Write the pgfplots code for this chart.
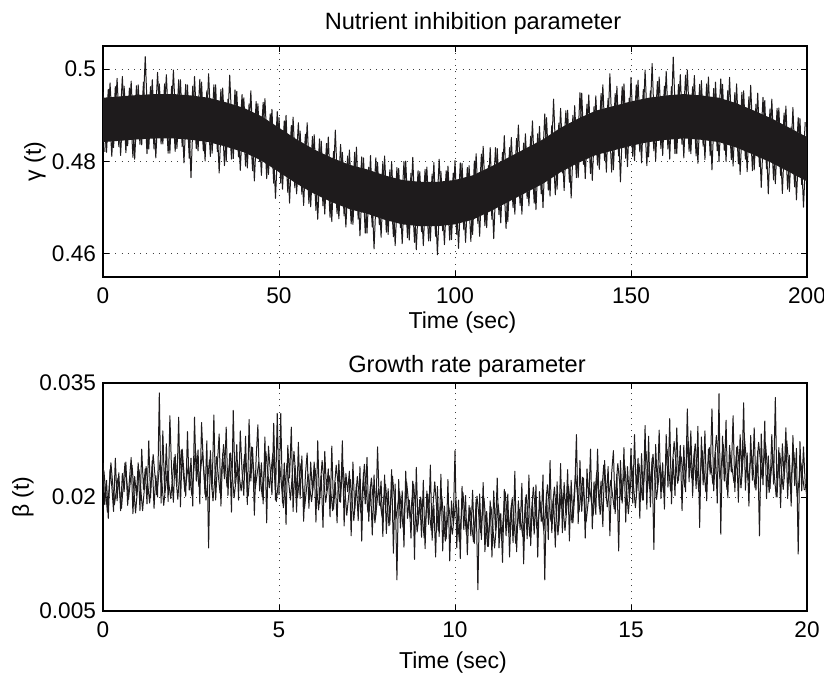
\documentclass[border=0pt]{standalone}
\usepackage{fontspec}
\setmainfont{Liberation Sans}
\usepackage{pgfplots}
\pgfplotsset{compat=1.18}
\definecolor{ink}{RGB}{30,27,28}

\pgfplotsset{
  matlab/.style={
    scale only axis, width=352pt,
    xmin=0,
    axis line style={line width=0.6pt, black},
    major tick length=3pt,
    tick style={line width=0.5pt, black},
    grid=major,
    major grid style={line width=0.5pt, black!75, dash pattern=on 0.5pt off 2.6pt},
    /pgf/number format/assume math mode=true,
    tick label style={font=\fontsize{11.3}{13}\selectfont},
    label style={font=\fontsize{11.5}{13}\selectfont},
    every axis title/.style={at={(0.5,1)}, anchor=base, font=\fontsize{11.8}{13}\selectfont},
    xticklabel style={anchor=base, yshift=-13pt},
    scaled ticks=false,
  },
}

\begin{document}
\begin{tikzpicture}
\path[use as bounding box] (0,0) rectangle (412pt,337.5pt);

% top: nutrient inhibition
\begin{axis}[matlab,
  at={(51.5pt,199pt)}, anchor=south west, height=115.5pt,
  xmax=200, ymin=0.455, ymax=0.505,
  xtick={0,50,100,150,200}, xticklabels={0,50,100,150,200},
  ytick={0.46,0.48,0.5}, yticklabels={0.46,0.48,0.5},
  title={Nutrient inhibition parameter},
  title style={yshift=8.5pt, xshift=9pt},
  xlabel={Time (sec)},
  xlabel style={at={(axis description cs:0.5,0)}, anchor=base, yshift=-25.5pt, xshift=3.75pt},
  ylabel={γ (t)},
  ylabel style={at={(axis description cs:-0.0966,0.5)}, anchor=center},
]
% dense core of the band
\addplot[draw=none, fill=ink] coordinates {
(0,.4938)(5,.4941)(10,.4944)(15,.4946)(20,.4946)(25,.4943)(30,.4938)(35,.4928)(40,.4916)
(45,.4898)(50,.4873)(55,.4848)(60,.4826)(65,.4808)(70,.4793)(75,.4783)(80,.4770)(85,.4760)
(90,.4756)(95,.4756)(100,.4760)(105,.4770)(110,.4788)(115,.4808)(120,.4828)(125,.4848)
(130,.4873)(135,.4893)(140,.4910)(145,.4920)(150,.4930)(155,.4938)(160,.4943)(165,.4946)
(170,.4943)(175,.4938)(180,.4926)(185,.4910)(190,.4893)(195,.4873)(200,.4853)
(200,.4757)(195,.4777)(190,.4797)(185,.4814)(180,.4830)(175,.4842)(170,.4847)(165,.4850)
(160,.4847)(155,.4842)(150,.4834)(145,.4824)(140,.4814)(135,.4797)(130,.4777)(125,.4752)
(120,.4732)(115,.4712)(110,.4692)(105,.4674)(100,.4664)(95,.4660)(90,.4660)(85,.4664)
(80,.4674)(75,.4687)(70,.4697)(65,.4712)(60,.4730)(55,.4752)(50,.4777)(45,.4802)(40,.4820)
(35,.4832)(30,.4842)(25,.4847)(20,.4850)(15,.4850)(10,.4848)(5,.4845)(0,.4842)
} -- cycle;
% spikes at whole seconds
\addplot[ink, line width=0.5pt, line join=round, no markers] coordinates {
(0,.4950)(1,.4820)(2,.4970)(3,.4830)(4,.4980)
(5,.4813)(6,.4963)(7,.4834)(8,.4974)(9,.4805)
(10,.4966)(11,.4836)(12,.5027)(13,.4827)(14,.4977)
(15,.4808)(16,.4968)(17,.4838)(18,.4988)(19,.4818)
(20,.4998)(21,.4828)(22,.4977)(23,.4797)(24,.4966)
(25,.4765)(26,.4984)(27,.4823)(28,.4972)(29,.4801)
(30,.4990)(31,.4818)(32,.4966)(33,.4775)(34,.4959)
(35,.4800)(36,.4987)(37,.4806)(38,.4952)(39,.4781)
(40,.4938)(41,.4786)(42,.4953)(43,.4758)(44,.4925)
(45,.4770)(46,.4936)(47,.4772)(48,.4913)(49,.4720)
(50,.4895)(51,.4740)(52,.4900)(53,.4710)(54,.4896)
(55,.4730)(56,.4866)(57,.4705)(58,.4884)(59,.4702)
(60,.4858)(61,.4675)(62,.4844)(63,.4686)(64,.4853)
(65,.4670)(66,.4868)(67,.4676)(68,.4820)(69,.4658)
(70,.4825)(71,.4664)(72,.4831)(73,.4639)(74,.4808)
(75,.4645)(76,.4813)(77,.4611)(78,.4798)(79,.4636)
(80,.4812)(81,.4642)(82,.4800)(83,.4618)(84,.4785)
(85,.4622)(86,.4801)(87,.4630)(88,.4809)(89,.4609)
(90,.4778)(91,.4618)(92,.4788)(93,.4628)(94,.4798)
(95,.4598)(96,.4779)(97,.4620)(98,.4790)(99,.4631)
(100,.4802)(101,.4612)(102,.4796)(103,.4625)(104,.4791)
(105,.4642)(106,.4817)(107,.4638)(108,.4833)(109,.4657)
(110,.4830)(111,.4633)(112,.4828)(113,.4667)(114,.4856)
(115,.4670)(116,.4852)(117,.4686)(118,.4879)(119,.4686)
(120,.4860)(121,.4704)(122,.4888)(123,.4696)(124,.4876)
(125,.4700)(126,.4895)(127,.4725)(128,.4935)(129,.4740)
(130,.4915)(131,.4737)(132,.4911)(133,.4721)(134,.4921)
(135,.4765)(136,.4948)(137,.4763)(138,.4944)(139,.4759)
(140,.4942)(141,.4783)(142,.4966)(143,.4777)(144,.4990)
(145,.4782)(146,.4963)(147,.4756)(148,.4968)(149,.4789)
(150,.4982)(151,.4802)(152,.4976)(153,.4797)(154,.4998)
(155,.4810)(156,.5012)(157,.4801)(158,.4983)(159,.4813)
(160,.4995)(161,.4805)(162,.5026)(163,.4817)(164,.4988)
(165,.4808)(166,.4998)(167,.4817)(168,.4986)(169,.4796)
(170,.4975)(171,.4804)(172,.4983)(173,.4782)(174,.4972)
(175,.4800)(176,.4967)(177,.4800)(178,.4982)(179,.4790)
(180,.4968)(181,.4772)(182,.4953)(183,.4778)(184,.4965)
(185,.4782)(186,.4948)(187,.4744)(188,.4932)(189,.4730)
(190,.4935)(191,.4752)(192,.4916)(193,.4731)(194,.4920)
(195,.4735)(196,.4917)(197,.4717)(198,.4893)(199,.4701)
(200,.4875)
};
% spikes at half seconds
\addplot[ink, line width=0.5pt, line join=round, no markers] coordinates {
(0.5,.4821)(1.5,.4956)(2.5,.4811)(3.5,.4962)(4.5,.4832)
(5.5,.4984)(6.5,.4819)(7.5,.4959)(8.5,.4809)(9.5,.4964)
(10.5,.4837)(11.5,.4972)(12.5,.4817)(13.5,.4962)(14.5,.4827)
(15.5,.4993)(16.5,.4838)(17.5,.4968)(18.5,.4818)(19.5,.4963)
(20.5,.4822)(21.5,.4977)(22.5,.4832)(23.5,.4967)(24.5,.4807)
(25.5,.4963)(26.5,.4828)(27.5,.4978)(28.5,.4823)(29.5,.4953)
(30.5,.4811)(31.5,.4966)(32.5,.4821)(33.5,.4956)(34.5,.4791)
(35.5,.4935)(36.5,.4805)(37.5,.4955)(38.5,.4810)(39.5,.4945)
(40.5,.4790)(41.5,.4925)(42.5,.4780)(43.5,.4930)(44.5,.4800)
(45.5,.4928)(46.5,.4763)(47.5,.4903)(48.5,.4753)(49.5,.4908)
(50.5,.4753)(51.5,.4888)(52.5,.4733)(53.5,.4878)(54.5,.4743)
(55.5,.4884)(56.5,.4729)(57.5,.4859)(58.5,.4709)(59.5,.4854)
(60.5,.4694)(61.5,.4849)(62.5,.4704)(63.5,.4839)(64.5,.4679)
(65.5,.4822)(66.5,.4687)(67.5,.4837)(68.5,.4682)(69.5,.4812)
(70.5,.4665)(71.5,.4820)(72.5,.4675)(73.5,.4810)(74.5,.4645)
(75.5,.4788)(76.5,.4658)(77.5,.4808)(78.5,.4663)(79.5,.4798)
(80.5,.4647)(81.5,.4782)(82.5,.4637)(83.5,.4787)(84.5,.4657)
(85.5,.4800)(86.5,.4635)(87.5,.4775)(88.5,.4625)(89.5,.4780)
(90.5,.4648)(91.5,.4783)(92.5,.4628)(93.5,.4773)(94.5,.4638)
(95.5,.4805)(96.5,.4650)(97.5,.4780)(98.5,.4630)(99.5,.4775)
(100.5,.4642)(101.5,.4797)(102.5,.4652)(103.5,.4787)(104.5,.4627)
(105.5,.4801)(106.5,.4666)(107.5,.4816)(108.5,.4661)(109.5,.4791)
(110.5,.4675)(111.5,.4830)(112.5,.4685)(113.5,.4820)(114.5,.4655)
(115.5,.4830)(116.5,.4700)(117.5,.4850)(118.5,.4705)(119.5,.4840)
(120.5,.4720)(121.5,.4855)(122.5,.4710)(123.5,.4860)(124.5,.4730)
(125.5,.4903)(126.5,.4738)(127.5,.4878)(128.5,.4728)(129.5,.4883)
(130.5,.4775)(131.5,.4910)(132.5,.4755)(133.5,.4900)(134.5,.4765)
(135.5,.4949)(136.5,.4794)(137.5,.4924)(138.5,.4774)(139.5,.4919)
(140.5,.4792)(141.5,.4947)(142.5,.4802)(143.5,.4937)(144.5,.4777)
(145.5,.4947)(146.5,.4812)(147.5,.4962)(148.5,.4807)(149.5,.4937)
(150.5,.4811)(151.5,.4966)(152.5,.4821)(153.5,.4956)(154.5,.4791)
(155.5,.4953)(156.5,.4823)(157.5,.4973)(158.5,.4828)(159.5,.4963)
(160.5,.4827)(161.5,.4962)(162.5,.4817)(163.5,.4967)(164.5,.4837)
(165.5,.4987)(166.5,.4822)(167.5,.4962)(168.5,.4812)(169.5,.4967)
(170.5,.4833)(171.5,.4968)(172.5,.4813)(173.5,.4958)(174.5,.4823)
(175.5,.4979)(176.5,.4824)(177.5,.4954)(178.5,.4804)(179.5,.4949)
(180.5,.4795)(181.5,.4950)(182.5,.4805)(183.5,.4940)(184.5,.4780)
(185.5,.4924)(186.5,.4789)(187.5,.4939)(188.5,.4784)(189.5,.4914)
(190.5,.4760)(191.5,.4915)(192.5,.4770)(193.5,.4905)(194.5,.4740)
(195.5,.4875)(196.5,.4745)(197.5,.4895)(198.5,.4750)(199.5,.4885)
};
\end{axis}

% bottom: growth rate
\begin{axis}[matlab,
  at={(51.5pt,32pt)}, anchor=south west, height=114pt,
  xmax=20, ymin=0.005, ymax=0.035,
  xtick={0,5,10,15,20}, xticklabels={0,5,10,15,20},
  ytick={0.005,0.02,0.035}, yticklabels={0.005,0.02,0.035},
  title={Growth rate parameter},
  title style={yshift=5.5pt, xshift=6pt},
  xlabel={Time (sec)},
  xlabel style={at={(axis description cs:0.5,0)}, anchor=base, yshift=-28.5pt, xshift=-1pt},
  ylabel={β (t)},
  ylabel style={at={(axis description cs:-0.1136,0.5)}, anchor=center},
]
% in-between samples (core of the noise)
\addplot[ink, line width=0.5pt, line join=round, no markers] table {
t y
0.025 .0235
0.125 .0180
0.225 .0245
0.325 .0190
0.425 .0225
0.525 .0185
0.625 .0245
0.725 .0197
0.825 .0242
0.925 .0179
1.025 .0236
1.125 .0182
1.225 .0240
1.325 .0192
1.425 .0256
1.525 .0203
1.625 .0248
1.725 .0189
1.825 .0234
1.925 .0198
2.025 .0252
2.125 .0197
2.225 .0262
2.325 .0207
2.425 .0242
2.525 .0202
2.625 .0262
2.725 .0214
2.825 .0259
2.925 .0196
3.025 .0249
3.125 .0195
3.225 .0253
3.325 .0205
3.425 .0269
3.525 .0213
3.625 .0258
3.725 .0199
3.825 .0244
3.925 .0208
4.025 .0256
4.125 .0201
4.225 .0266
4.325 .0211
4.425 .0246
4.525 .0200
4.625 .0260
4.725 .0212
4.825 .0257
4.925 .0194
5.025 .0240
5.125 .0186
5.225 .0244
5.325 .0196
5.425 .0260
5.525 .0199
5.625 .0244
5.725 .0185
5.825 .0230
5.925 .0194
6.025 .0238
6.125 .0183
6.225 .0248
6.325 .0193
6.425 .0228
6.525 .0182
6.625 .0242
6.725 .0194
6.825 .0239
6.925 .0176
7.025 .0223
7.125 .0169
7.225 .0227
7.325 .0179
7.425 .0243
7.525 .0180
7.625 .0225
7.725 .0166
7.825 .0211
7.925 .0175
8.025 .0217
8.125 .0162
8.225 .0227
8.325 .0172
8.425 .0207
8.525 .0160
8.625 .0220
8.725 .0172
8.825 .0217
8.925 .0154
9.025 .0200
9.125 .0146
9.225 .0204
9.325 .0156
9.425 .0220
9.525 .0156
9.625 .0201
9.725 .0142
9.825 .0187
9.925 .0151
10.025 .0196
10.125 .0141
10.225 .0206
10.325 .0151
10.425 .0186
10.525 .0141
10.625 .0201
10.725 .0153
10.825 .0198
10.925 .0135
11.025 .0187
11.125 .0133
11.225 .0191
11.325 .0143
11.425 .0207
11.525 .0153
11.625 .0198
11.725 .0139
11.825 .0184
11.925 .0148
12.025 .0203
12.125 .0148
12.225 .0213
12.325 .0158
12.425 .0193
12.525 .0156
12.625 .0216
12.725 .0168
12.825 .0213
12.925 .0150
13.025 .0210
13.125 .0156
13.225 .0214
13.325 .0166
13.425 .0230
13.525 .0181
13.625 .0226
13.725 .0167
13.825 .0212
13.925 .0176
14.025 .0232
14.125 .0177
14.225 .0242
14.325 .0187
14.425 .0222
14.525 .0184
14.625 .0244
14.725 .0196
14.825 .0241
14.925 .0178
15.025 .0240
15.125 .0186
15.225 .0244
15.325 .0196
15.425 .0260
15.525 .0211
15.625 .0256
15.725 .0197
15.825 .0242
15.925 .0206
16.025 .0263
16.125 .0208
16.225 .0273
16.325 .0218
16.425 .0253
16.525 .0213
16.625 .0273
16.725 .0225
16.825 .0270
16.925 .0207
17.025 .0261
17.125 .0207
17.225 .0265
17.325 .0217
17.425 .0281
17.525 .0224
17.625 .0269
17.725 .0210
17.825 .0255
17.925 .0219
18.025 .0267
18.125 .0212
18.225 .0277
18.325 .0222
18.425 .0257
18.525 .0212
18.625 .0272
18.725 .0224
18.825 .0269
18.925 .0206
19.025 .0254
19.125 .0200
19.225 .0258
19.325 .0210
19.425 .0274
19.525 .0214
19.625 .0259
19.725 .0200
19.825 .0245
19.925 .0209
};
% main samples
\addplot[ink, line width=0.5pt, line join=round, no markers] table {
t y
0.00 .0245
0.05 .0190
0.10 .0222
0.15 .0172
0.20 .0236
0.25 .0214
0.30 .0181
0.35 .0251
0.40 .0195
0.45 .0232
0.50 .0182
0.55 .0231
0.60 .0207
0.65 .0246
0.70 .0189
0.75 .0222
0.80 .0252
0.85 .0178
0.90 .0227
0.95 .0202
1.00 .0245
1.05 .0182
1.10 .0263
1.15 .0210
1.20 .0237
1.25 .0191
1.30 .0274
1.35 .0199
1.40 .0248
1.45 .0185
1.50 .0228
1.55 .0200
1.60 .0337
1.65 .0192
1.70 .0287
1.75 .0206
1.80 .0270
1.85 .0194
1.90 .0307
1.95 .0232
2.00 .0193
2.05 .0256
2.10 .0215
2.15 .0305
2.20 .0187
2.25 .0263
2.30 .0232
2.35 .0201
2.40 .0286
2.45 .0209
2.50 .0251
2.55 .0188
2.60 .0305
2.65 .0221
2.70 .0262
2.75 .0191
2.80 .0298
2.85 .0245
2.90 .0203
2.95 .0274
3.00 .0133
3.05 .0261
3.10 .0210
3.15 .0308
3.20 .0196
3.25 .0244
3.30 .0283
3.35 .0188
3.40 .0257
3.45 .0224
3.50 .0292
3.55 .0202
3.60 .0257
3.65 .0180
3.70 .0314
3.75 .0218
3.80 .0269
3.85 .0196
3.90 .0287
3.95 .0234
4.00 .0202
4.05 .0280
4.10 .0190
4.15 .0302
4.20 .0221
4.25 .0265
4.30 .0176
4.35 .0251
4.40 .0295
4.45 .0208
4.50 .0245
4.55 .0191
4.60 .0279
4.65 .0166
4.70 .0267
4.75 .0236
4.80 .0203
4.85 .0297
4.90 .0196
4.95 .0310
5.00 .0203
5.05 .0310
5.10 .0192
5.15 .0245
5.20 .0164
5.25 .0268
5.30 .0225
5.35 .0292
5.40 .0181
5.45 .0241
5.50 .0180
5.55 .0272
5.60 .0198
5.65 .0254
5.70 .0168
5.75 .0229
5.80 .0258
5.85 .0185
5.90 .0246
5.95 .0206
6.00 .0246
6.05 .0167
6.10 .0274
6.15 .0191
6.20 .0228
6.25 .0160
6.30 .0260
6.35 .0208
6.40 .0237
6.45 .0174
6.50 .0267
6.55 .0184
6.60 .0219
6.65 .0166
6.70 .0248
6.75 .0193
6.80 .0274
6.85 .0162
6.90 .0231
6.95 .0207
7.00 .0234
7.05 .0149
7.10 .0246
7.15 .0184
7.20 .0217
7.25 .0169
7.30 .0240
7.35 .0142
7.40 .0232
7.45 .0191
7.50 .0252
7.55 .0168
7.60 .0215
7.65 .0150
7.70 .0229
7.75 .0176
7.80 .0266
7.85 .0189
7.90 .0221
7.95 .0148
8.00 .0229
8.05 .0152
8.10 .0211
8.15 .0164
8.20 .0236
8.25 .0126
8.30 .0217
8.35 .0091
8.40 .0223
8.45 .0159
8.50 .0208
8.55 .0134
8.60 .0234
8.65 .0172
8.70 .0196
8.75 .0146
8.80 .0221
8.85 .0118
8.90 .0239
8.95 .0164
9.00 .0197
9.05 .0147
9.10 .0222
9.15 .0132
9.20 .0208
9.25 .0164
9.30 .0242
9.35 .0143
9.40 .0189
9.45 .0121
9.50 .0214
9.55 .0148
9.60 .0230
9.65 .0129
9.70 .0188
9.75 .0145
9.80 .0223
9.85 .0116
9.90 .0195
9.95 .0164
10.00 .0261
10.05 .0133
10.10 .0196
10.15 .0119
10.20 .0214
10.25 .0157
10.30 .0202
10.35 .0124
10.40 .0189
10.45 .0149
10.50 .0209
10.55 .0139
10.60 .0197
10.65 .0078
10.70 .0204
10.75 .0144
10.80 .0219
10.85 .0128
10.90 .0181
10.95 .0135
11.00 .0195
11.05 .0121
11.10 .0208
11.15 .0156
11.20 .0225
11.25 .0133
11.30 .0178
11.35 .0114
11.40 .0210
11.45 .0149
11.50 .0204
11.55 .0121
11.60 .0189
11.65 .0140
11.70 .0234
11.75 .0128
11.80 .0195
11.85 .0157
11.90 .0218
11.95 .0112
12.00 .0198
12.05 .0145
12.10 .0229
12.15 .0136
12.20 .0194
12.25 .0151
12.30 .0216
12.35 .0121
12.40 .0207
12.45 .0168
12.50 .0229
12.55 .0091
12.60 .0206
12.65 .0144
12.70 .0248
12.75 .0153
12.80 .0198
12.85 .0134
12.90 .0220
12.95 .0162
13.00 .0244
13.05 .0153
13.10 .0219
13.15 .0176
13.20 .0236
13.25 .0142
13.30 .0222
13.35 .0166
13.40 .0203
13.45 .0282
13.50 .0165
13.55 .0248
13.60 .0181
13.65 .0225
13.70 .0146
13.75 .0237
13.80 .0194
13.85 .0263
13.90 .0158
13.95 .0220
14.00 .0177
14.05 .0263
14.10 .0185
14.15 .0221
14.20 .0161
14.25 .0248
14.30 .0196
14.35 .0240
14.40 .0149
14.45 .0231
14.50 .0261
14.55 .0178
14.60 .0230
14.65 .0129
14.70 .0248
14.75 .0192
14.80 .0265
14.85 .0167
14.90 .0240
14.95 .0199
15.00 .0264
15.05 .0192
15.10 .0282
15.15 .0205
15.20 .0251
15.25 .0172
15.30 .0257
15.35 .0196
15.40 .0294
15.45 .0184
15.50 .0280
15.55 .0187
15.60 .0251
15.65 .0131
15.70 .0269
15.75 .0212
15.80 .0288
15.85 .0198
15.90 .0245
15.95 .0184
16.00 .0282
16.05 .0213
16.10 .0303
16.15 .0191
16.20 .0250
16.25 .0202
16.30 .0291
16.35 .0222
16.40 .0268
16.45 .0182
16.50 .0268
16.55 .0207
16.60 .0316
16.65 .0220
16.70 .0287
16.75 .0201
16.80 .0260
16.85 .0211
16.90 .0293
16.95 .0160
17.00 .0279
17.05 .0216
17.10 .0287
17.15 .0195
17.20 .0263
17.25 .0230
17.30 .0316
17.35 .0208
17.40 .0259
17.45 .0192
17.50 .0336
17.55 .0151
17.60 .0280
17.65 .0221
17.70 .0301
17.75 .0199
17.80 .0268
17.85 .0233
17.90 .0307
17.95 .0207
18.00 .0265
18.05 .0193
18.10 .0282
18.15 .0227
18.20 .0324
18.25 .0209
18.30 .0258
18.35 .0188
18.40 .0281
18.45 .0222
18.50 .0291
18.55 .0209
18.60 .0260
18.65 .0149
18.70 .0283
18.75 .0216
18.80 .0300
18.85 .0198
18.90 .0254
18.95 .0211
19.00 .0282
19.05 .0217
19.10 .0331
19.15 .0200
19.20 .0265
19.25 .0186
19.30 .0270
19.35 .0224
19.40 .0291
19.45 .0198
19.50 .0255
19.55 .0188
19.60 .0281
19.65 .0215
19.70 .0264
19.75 .0125
19.80 .0273
19.85 .0208
19.90 .0266
19.95 .0217
20.00 .0199
};
\end{axis}
\end{tikzpicture}
\end{document}
